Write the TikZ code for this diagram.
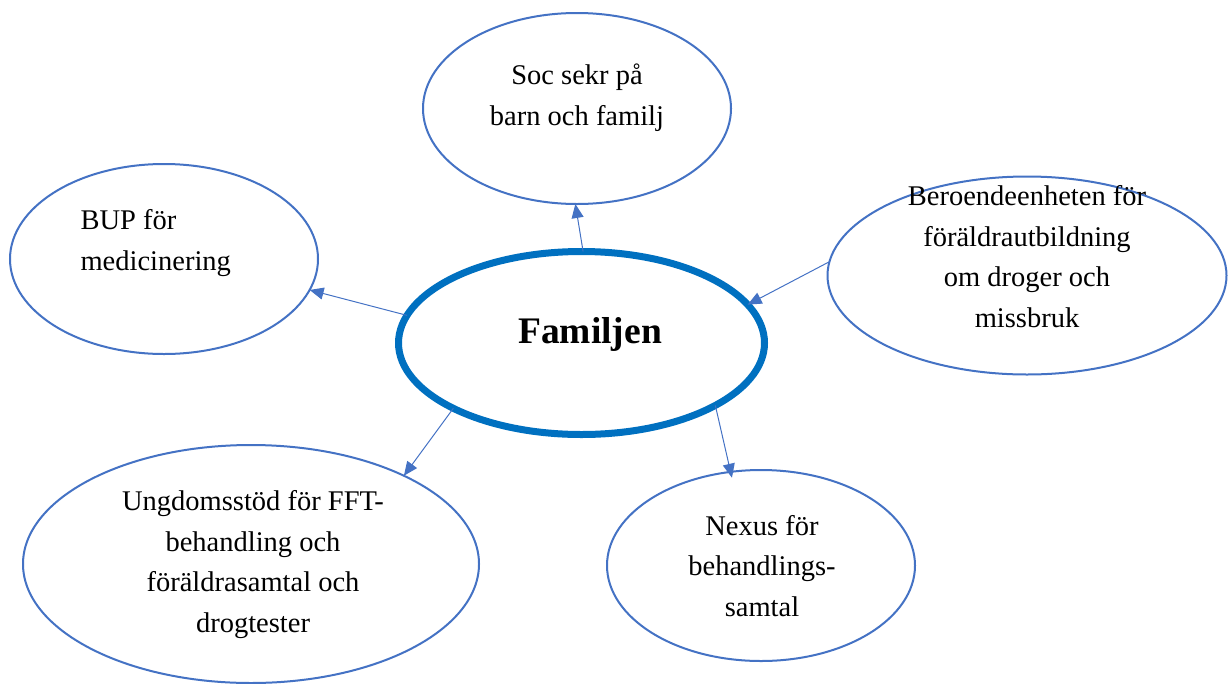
\documentclass[tikz,border=0pt]{standalone}
\usepackage{fontspec}
\setmainfont{Liberation Serif}
\usepackage{xcolor}
\usetikzlibrary{shapes.geometric, arrows.meta, positioning}
\definecolor{ringblue}{HTML}{4472C4}
\definecolor{coreblue}{HTML}{0070C0}
\tikzset{
  ring/.style={ellipse, draw=ringblue, line width=2pt, inner sep=0pt, outer sep=0pt, fill=white},
  txt/.style={font=\fontsize{28.5}{40.5}\selectfont, align=center, anchor=base},
  link/.style={draw=ringblue, line width=1pt, -{Triangle[length=14pt,width=12pt]}}
}

\begin{document}
\begin{tikzpicture}[x=1pt, y=-1pt]
			\useasboundingbox (0,0) rectangle (1228,683);
			
			\node[ring, draw=coreblue, line width=7pt, minimum width=366pt, minimum height=183pt](fam) at (581.5,343) {};
			
			\node[ring, minimum width=308pt, minimum height=191pt](soc) at (577,108.5) {};
			\node[ring, minimum width=308pt, minimum height=190pt](bup) at (164,259) {};
			\node[ring, minimum width=399pt, minimum height=198pt](ber) at (1027,275.5) {};
			\node[ring, minimum width=456pt, minimum height=238pt](ung) at (251,564) {};
			\node[ring, minimum width=308pt, minimum height=191pt](nexus) at (761,565.5) {};
			
			%% texts, placed by their last baseline
			\node[font=\fontsize{37.5}{44}\selectfont\bfseries, anchor=base](fam-txt) at (590,343) {Familjen};
			\node[txt](soc-txt) at (577,125) {Soc sekr på\\barn och familj};
			\node[txt, align=left, anchor=base west](bup-txt) at (77,270) {BUP för\\medicinering};
			\node[txt](ber-txt) at (1027,327) {Beroendeenheten för\\föräldrautbildning\\om droger och\\missbruk};
			\node[txt](ung-txt) at (253,632) {Ungdomsstöd för FFT-\\behandling och\\föräldrasamtal och\\drogtester};
			\node[txt](nexus-txt) at (762,616) {Nexus för\\behandlings-\\samtal};
			
			\draw[link] (fam.89) -- (soc.269);
			\draw[link] (fam.171) -- (bup.-12);
			\draw[link] (ber.176) -- (fam.13.5);
			\draw[link] (fam.207.6) -- (ung.30.6);
			\draw[link, shorten >=-6pt] (fam.-25.4) -- (nexus.108.3);
			
\end{tikzpicture}
\end{document}
